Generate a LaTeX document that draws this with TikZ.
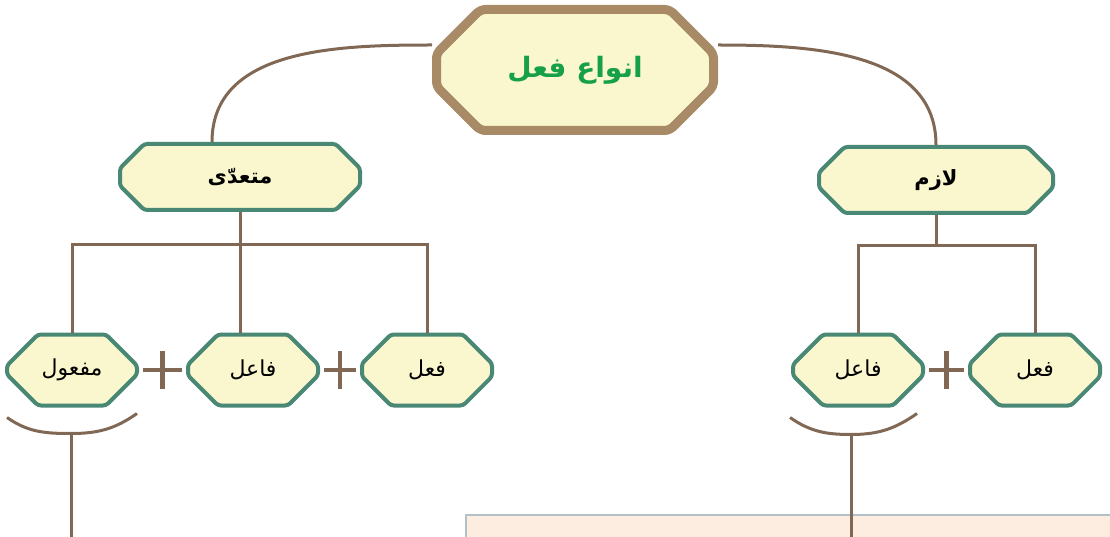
\documentclass[tikz,border=0pt]{standalone}
\usepackage{fontspec}
\newfontfamily\arabicfont[Script=Arabic]{DejaVu Sans}
\TeXXeTstate=1
\usetikzlibrary{shapes.misc,calc}
\definecolor{linkbrown}{RGB}{128,104,84}
\definecolor{tanborder}{RGB}{168,138,102}
\definecolor{tealborder}{RGB}{72,136,116}
\definecolor{paleyellow}{RGB}{250,247,207}
\definecolor{titlegreen}{RGB}{22,160,72}
\definecolor{peach}{RGB}{253,237,224}
\definecolor{boxedge}{RGB}{178,192,202}

\begin{document}
\begin{tikzpicture}[x=1pt,y=1pt]
\tikzstyle{every node}+=[inner sep=0pt]
\tikzstyle{kindbox}=[chamfered rectangle, draw=tanborder, line width=9pt, fill=paleyellow, rounded corners=5pt, minimum width=277pt, minimum height=121pt, chamfered rectangle xsep=44pt, chamfered rectangle ysep=30pt, text=titlegreen, font=\arabicfont\bfseries\fontsize{28}{32}\selectfont]
\tikzstyle{groupbox}=[chamfered rectangle, draw=tealborder, line width=4pt, fill=paleyellow, rounded corners=3pt, minimum height=66pt, chamfered rectangle xsep=32pt, chamfered rectangle ysep=15pt, font=\arabicfont\bfseries\fontsize{21}{25}\selectfont]
\tikzstyle{partbox}=[chamfered rectangle, draw=tealborder, line width=4pt, fill=paleyellow, rounded corners=3pt, minimum width=130pt, minimum height=71pt, chamfered rectangle xsep=24pt, chamfered rectangle ysep=20pt, font=\arabicfont\fontsize{22}{26}\selectfont]
\tikzstyle{link}=[draw=linkbrown, line width=3pt]
\tikzstyle{plus}=[draw=linkbrown, line width=4.5pt]
\useasboundingbox (0,0) rectangle (1110,-537);
\fill [peach] (466,-515) rectangle (1110,-537);
\draw [boxedge, line width=2pt] (466,-537) -- (466,-515) -- (1110,-515);
\node [kindbox] (kinds) at (575,-70) {\beginR انواع فعل\endR};
\node [groupbox, minimum width=240pt] (mutaadi) at (240,-177) {\beginR متعدّی\endR};
\node [groupbox, minimum width=234pt] (lazem) at (936,-180) {\beginR لازم\endR};
\node [partbox] (mafool) at (72,-370) {\beginR مفعول\endR};
\node [partbox] (faael1) at (253,-370) {\beginR فاعل\endR};
\node [partbox] (feel1) at (427,-370) {\beginR فعل\endR};
\node [partbox] (faael2) at (858,-370) {\beginR فاعل\endR};
\node [partbox] (feel2) at (1035,-370) {\beginR فعل\endR};
\draw [link] ($(kinds.west)+(0,25)$) to[out=180,in=90] ($(mutaadi.north)+(-28,0)$);
\draw [link] ($(kinds.east)+(0,25)$) to[out=0,in=90] (lazem.north);
\draw [link] (mutaadi.south) -- ++(0,-33) coordinate (busL);
\draw [link] (mafool.north) |- (busL) -| (feel1.north);
\draw [link] (busL) -- (busL |- faael1.north);
\draw [link] (lazem.south) -- ++(0,-31) coordinate (busR);
\draw [link] (faael2.north) |- (busR) -| (feel2.north);
\draw [plus, shorten <=4pt, shorten >=4pt] (mafool.east) -- coordinate[pos=0.5] (p1) (faael1.west);
\draw [plus] ($(p1)+(0,19)$) -- ($(p1)+(0,-19)$);
\draw [plus, shorten <=4pt, shorten >=4pt] (faael1.east) -- coordinate[pos=0.5] (p2) (feel1.west);
\draw [plus] ($(p2)+(0,19)$) -- ($(p2)+(0,-19)$);
\draw [plus, shorten <=4pt, shorten >=4pt] (faael2.east) -- coordinate[pos=0.5] (p3) (feel2.west);
\draw [plus] ($(p3)+(0,19)$) -- ($(p3)+(0,-19)$);
\draw [link] ($(mafool.south)+(-65,-10)$) to[out=-35,in=180] ($(mafool.south)+(-1,-26)$) coordinate (c1) to[out=0,in=-145] ($(mafool.south)+(65,-6)$);
\draw [link] (c1) -- (c1 |- 0,-537);
\draw [link] ($(faael2.south)+(-68,-10)$) to[out=-35,in=180] ($(faael2.south)+(-7,-27)$) coordinate (c2) to[out=0,in=-145] ($(faael2.south)+(59,-6)$);
\draw [link] (c2) -- (c2 |- 0,-537);
\end{tikzpicture}
\end{document}
